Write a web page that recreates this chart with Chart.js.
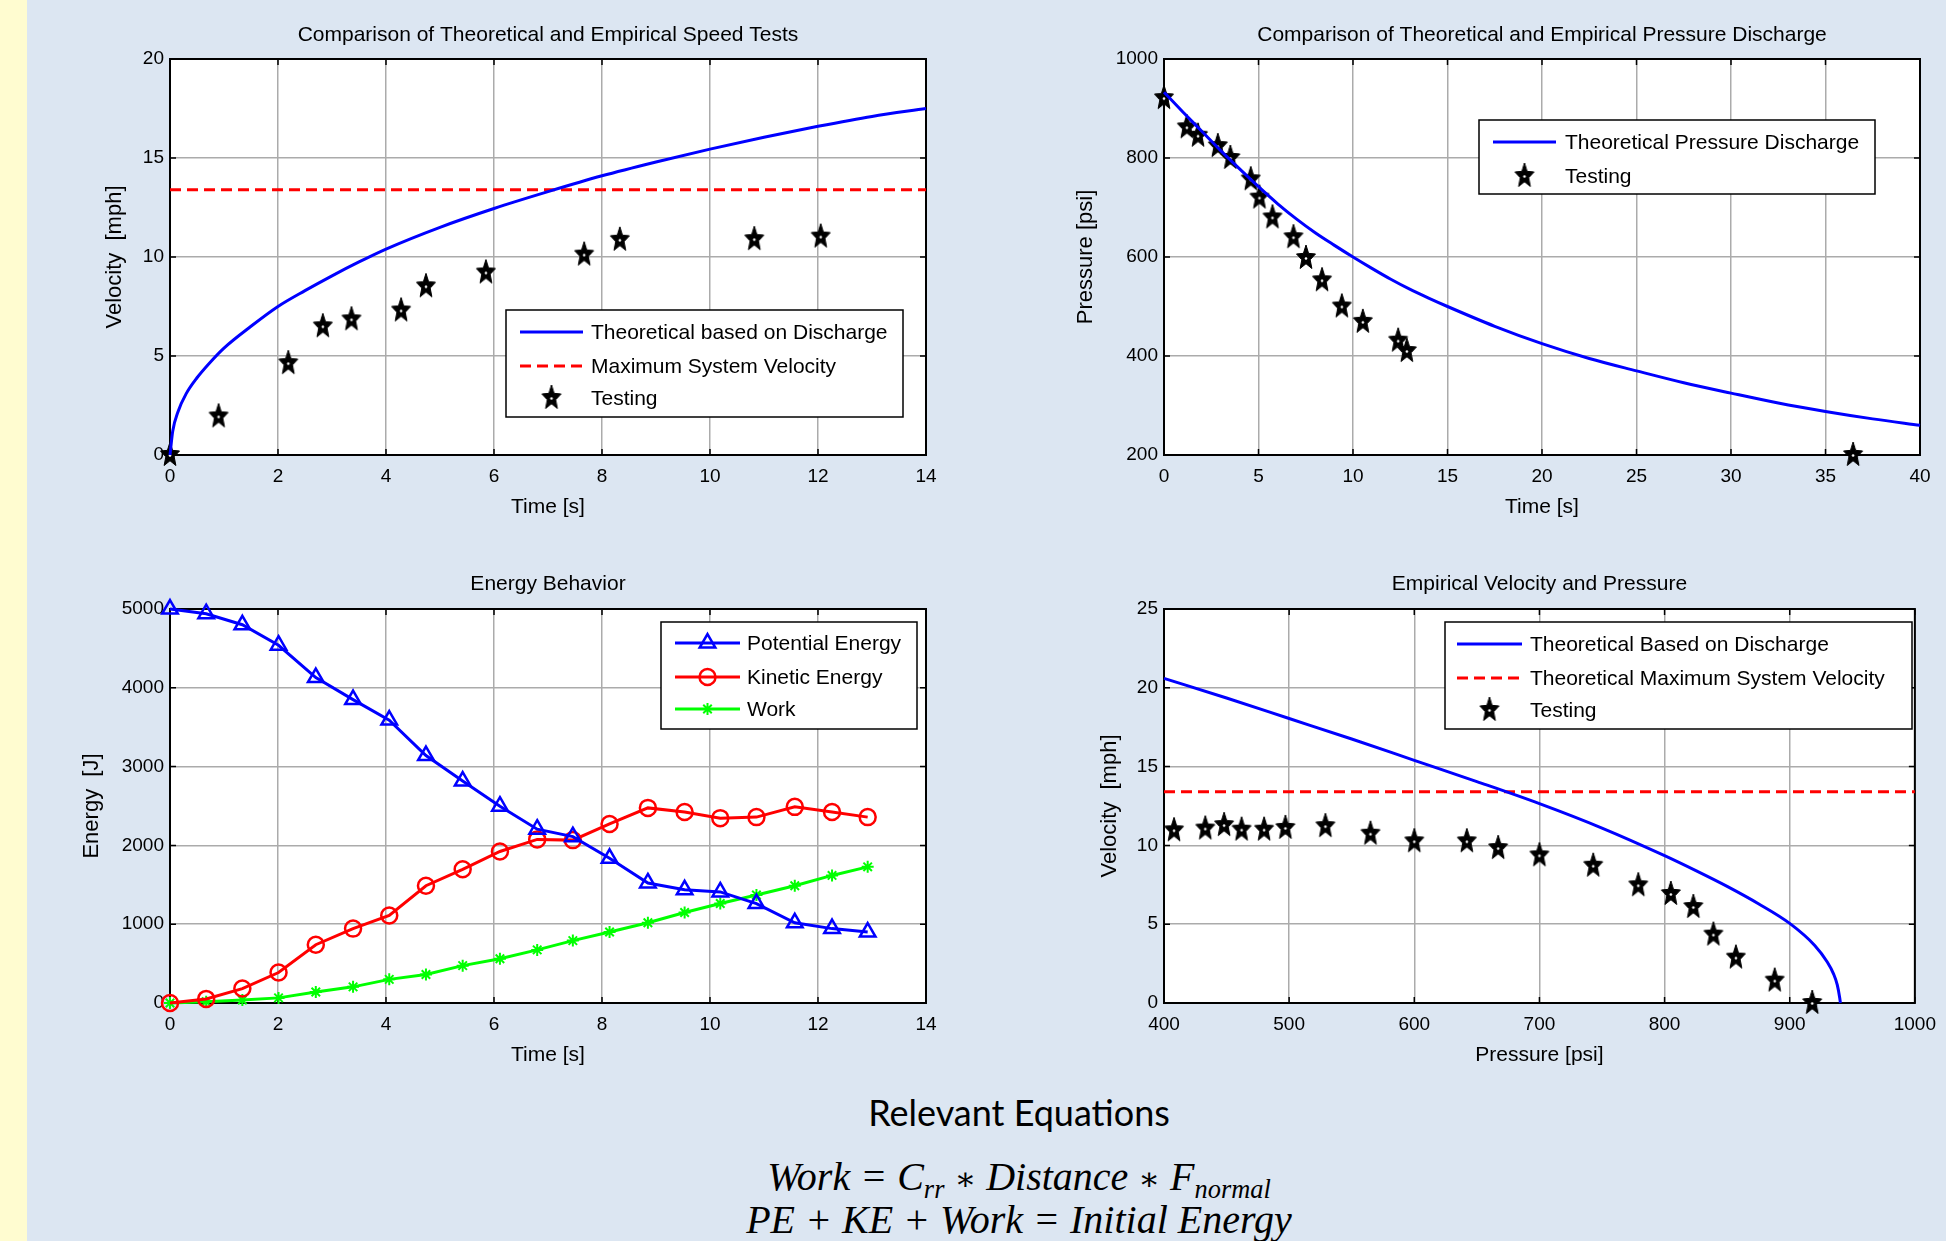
<!DOCTYPE html>
<html><head><meta charset="utf-8">
<script src="https://cdn.jsdelivr.net/npm/chart.js@4.4.1/dist/chart.umd.min.js"></script>
<style>
html,body{margin:0;padding:0;}
body{width:1946px;height:1241px;background:#DCE6F2;position:relative;overflow:hidden;font-family:"Liberation Sans",Arial,sans-serif;}
#strip{position:absolute;left:0;top:0;width:27px;height:1241px;background:#FFFCD0;}
canvas{position:absolute;}
#eqTitle{position:absolute;left:519px;width:1000px;top:1090px;text-align:center;font-family:Lato,"Open Sans",sans-serif;font-size:36px;line-height:44px;color:#000;}
.eq{position:absolute;left:419px;width:1200px;text-align:center;font-family:"Liberation Serif","DejaVu Serif",serif;font-style:italic;font-size:40px;line-height:44px;color:#000;}
.eq sub{font-size:0.66em;vertical-align:-0.3em;line-height:0;}
.eq .op{font-style:normal;font-size:0.8em;}
</style></head>
<body>
<div id="strip"></div>
<canvas id="c1"></canvas><canvas id="c2"></canvas><canvas id="c3"></canvas><canvas id="c4"></canvas>
<div id="eqTitle">Relevant Equations</div>
<div class="eq" style="top:1155px">Work = C<sub>rr</sub> <span class="op">∗</span> Distance <span class="op">∗</span> F<sub>normal</sub></div>
<div class="eq" style="top:1198px">PE + KE + Work = Initial Energy</div>
<script>
// ---------- DATA ----------
// Chart 1: speed tests
const theoryTime1 = [0,0.05,0.15,0.3,0.5,0.75,1,1.5,2,2.5,3,3.5,4,5,6,7,8,9,10,11,12,13,14];
const theoryVel1  = [0,1.2,2.2,3.1,3.9,4.7,5.4,6.5,7.5,8.3,9.05,9.75,10.4,11.5,12.45,13.3,14.1,14.8,15.45,16.05,16.6,17.1,17.5];
const maxVel1Range = [0,14];
const maxVelocity = 13.4;
const testTime1 = [0,0.9,2.19,2.83,3.36,4.28,4.74,5.85,7.67,8.33,10.82,12.05];
const testVel1  = [0,1.95,4.64,6.5,6.85,7.3,8.52,9.22,10.12,10.87,10.9,11.03];
const labels1 = ["Theoretical based on Discharge","Maximum System Velocity","Testing"];

// Chart 2: pressure discharge
const theoryTime2  = [0,1,2,3,4,5,6,7,8,9,10,11,12,13,14,15,17.5,20,22.5,25,27.5,30,32.5,35,37.5,40];
const theoryPress2 = [933,893,854,815,778,742,708,677,649,624,600,577,555,535,517,500,460,425,395,370,346,325,305,288,273,260];
const testTime2  = [0,1.21,1.8,2.85,3.51,4.59,5.05,5.74,6.85,7.51,8.36,9.41,10.52,12.39,12.85,36.46];
const testPress2 = [921,862,845,824,800,757,720,680,640,598,553,500,469,431,410,200];
const labels2 = ["Theoretical Pressure Discharge","Testing"];

// Chart 3: energy behavior
const energyTime = [0,0.67,1.34,2.01,2.70,3.39,4.06,4.74,5.42,6.11,6.80,7.46,8.14,8.85,9.53,10.19,10.86,11.57,12.26,12.92];
const potentialEnergy = [5000,4940,4800,4540,4130,3850,3590,3140,2816,2498,2206,2111,1836,1523,1436,1410,1262,1018,944,901];
const kineticEnergy   = [0,52,183,387,740,944,1110,1488,1697,1923,2076,2067,2272,2476,2424,2346,2359,2489,2424,2359];
const workEnergy      = [0,17,39,65,139,205,300,361,474,561,674,792,901,1018,1149,1262,1371,1488,1619,1728];
const labels3 = ["Potential Energy","Kinetic Energy","Work"];

// Chart 4: velocity vs pressure
const theoryPress4 = [400,450,500,550,600,650,700,750,800,825,850,875,900,920,930,935,938,940,940.5];
const theoryVel4   = [20.6,19.35,18.05,16.75,15.4,14.05,12.65,11.1,9.35,8.4,7.4,6.3,5.05,3.65,2.6,1.85,1.15,0.3,0];
const maxVel4Range = [400,1000];
const testPress4 = [408,433,448,462,480,497,529,565,600,642,667,700,743,779,805,823,839,857,888,918];
const testVel4   = [10.96,11.07,11.29,11.0,11.0,11.11,11.22,10.74,10.26,10.26,9.83,9.37,8.71,7.47,6.92,6.09,4.34,2.88,1.42,0];
const labels4 = ["Theoretical Based on Discharge","Theoretical Maximum System Velocity","Testing"];

// ---------- RENDER ----------
Chart.defaults.font.family = '"Liberation Sans", Arial, Helvetica, sans-serif';
Chart.defaults.color = '#000';

const pts = (xs, ys) => xs.map((x, i) => ({x, y: ys[i]}));

function makeStar() {
  const c = document.createElement('canvas');
  c.width = 22; c.height = 28;
  const g = c.getContext('2d');
  const cx = 11, cy = 14, R = 10, r = 4.4, sy = 1.3;
  g.beginPath();
  for (let k = 0; k < 10; k++) {
    const a = -Math.PI / 2 + k * Math.PI / 5;
    const rr = k % 2 === 0 ? R : r;
    const px = cx + rr * Math.cos(a), py = cy + rr * Math.sin(a) * sy;
    if (k === 0) g.moveTo(px, py); else g.lineTo(px, py);
  }
  g.closePath();
  g.fillStyle = '#000'; g.fill();
  g.lineWidth = 1; g.strokeStyle = '#000'; g.stroke();
  g.beginPath(); g.arc(cx, cy + 0.5, 1.3, 0, Math.PI * 2); g.fillStyle = '#fff'; g.fill();
  return c;
}
const STAR = makeStar();

function framePlugin(spec, box) {
  return {
    id: 'matlabFrame',
    beforeDraw(chart) {
      const {ctx, chartArea: a} = chart;
      ctx.save(); ctx.fillStyle = '#fff';
      ctx.fillRect(a.left, a.top, a.right - a.left, a.bottom - a.top);
      ctx.restore();
    },
    beforeDatasetsDraw(chart) {
      const {ctx, chartArea: a, scales} = chart;
      ctx.save();
      ctx.strokeStyle = '#000'; ctx.lineWidth = 1.5;
      const L = 6;
      scales.x.ticks.forEach(t => {
        const px = scales.x.getPixelForValue(t.value);
        ctx.beginPath();
        ctx.moveTo(px, a.bottom); ctx.lineTo(px, a.bottom - L);
        ctx.moveTo(px, a.top); ctx.lineTo(px, a.top + L);
        ctx.stroke();
      });
      scales.y.ticks.forEach(t => {
        const py = scales.y.getPixelForValue(t.value);
        ctx.beginPath();
        ctx.moveTo(a.left, py); ctx.lineTo(a.left + L, py);
        ctx.moveTo(a.right, py); ctx.lineTo(a.right - L, py);
        ctx.stroke();
      });
      ctx.lineWidth = 2;
      ctx.strokeRect(a.left, a.top, a.right - a.left, a.bottom - a.top);
      ctx.restore();
    },
    afterDatasetsDraw(chart) {
      const ctx = chart.ctx, ox = box.x, oy = box.y, b = spec.box;
      ctx.save();
      ctx.fillStyle = '#fff';
      ctx.fillRect(b[0] - ox, b[1] - oy, b[2] - b[0], b[3] - b[1]);
      ctx.strokeStyle = '#000'; ctx.lineWidth = 1.5;
      ctx.strokeRect(b[0] - ox, b[1] - oy, b[2] - b[0], b[3] - b[1]);
      chart.data.datasets.forEach((ds, i) => {
        const y = spec.rows[i] - oy;
        const x1 = spec.line[0] - ox, x2 = spec.line[1] - ox, xm = (x1 + x2) / 2;
        if (ds.showLine) {
          ctx.save();
          ctx.strokeStyle = ds.borderColor; ctx.lineWidth = ds.borderWidth;
          ctx.setLineDash(ds.borderDash || []);
          ctx.beginPath(); ctx.moveTo(x1, y); ctx.lineTo(x2, y); ctx.stroke();
          ctx.restore();
        }
        if (ds.pointStyle instanceof HTMLCanvasElement) {
          ctx.drawImage(ds.pointStyle, xm - ds.pointStyle.width / 2, y - ds.pointStyle.height / 2);
        } else if (ds.pointRadius > 0) {
          ctx.save();
          ctx.fillStyle = ds.pointBackgroundColor; ctx.strokeStyle = ds.pointBorderColor;
          ctx.lineWidth = ds.pointBorderWidth; ctx.setLineDash([]);
          Chart.helpers.drawPoint(ctx, {pointStyle: ds.pointStyle, radius: ds.pointRadius, borderWidth: ds.pointBorderWidth, rotation: 0}, xm, y);
          ctx.restore();
        }
        ctx.fillStyle = '#000';
        ctx.font = '21px "Liberation Sans", Arial, sans-serif';
        ctx.textBaseline = 'middle'; ctx.textAlign = 'left';
        ctx.fillText(ds.label, spec.textX - ox, y + 1);
      });
      ctx.restore();
    }
  };
}

function makeChart(id, box, plot, cfg) {
  const cv = document.getElementById(id);
  cv.width = box.w; cv.height = box.h;
  cv.style.left = box.x + 'px'; cv.style.top = box.y + 'px';
  cv.style.width = box.w + 'px'; cv.style.height = box.h + 'px';
  const lh = 21 * 1.2;
  const axisLh = 21 * 1.2;
  const gridOpts = {color: '#ababab', lineWidth: 1.5, drawTicks: false};
  new Chart(cv, {
    type: 'scatter',
    data: {datasets: cfg.datasets},
    plugins: [framePlugin(cfg.legend, box)],
    options: {
      responsive: false, animation: false, devicePixelRatio: 1,
      events: [],
      layout: {padding: {left: 0, top: 0, right: box.x + box.w - plot.r, bottom: 0}},
      plugins: {
        legend: {display: false}, tooltip: {enabled: false},
        title: {display: true, text: cfg.title, fullSize: false, color: '#000',
          font: {size: 21, weight: 'normal', lineHeight: 1.2},
          padding: {top: cfg.titleY - box.y - lh / 2, bottom: plot.t - cfg.titleY - lh / 2}}
      },
      scales: {
        x: {type: 'linear', min: cfg.x.min, max: cfg.x.max,
          ticks: {stepSize: cfg.x.step, padding: 10, font: {size: 19}, color: '#000', maxRotation: 0, autoSkip: false,
            format: {useGrouping: false}},
          grid: gridOpts, border: {display: false},
          title: {display: true, text: cfg.x.title, color: '#000', font: {size: 21, lineHeight: 1.2},
            padding: {top: 0, bottom: box.y + box.h - cfg.x.titleY - axisLh / 2}},
          afterFit(s) { s.height = box.y + box.h - plot.b; }},
        y: {type: 'linear', min: cfg.y.min, max: cfg.y.max,
          ticks: {stepSize: cfg.y.step, padding: 6, font: {size: 19}, color: '#000', autoSkip: false,
            format: {useGrouping: false}},
          grid: gridOpts, border: {display: false},
          title: {display: true, text: cfg.y.title, color: '#000', font: {size: 22, lineHeight: 1.2},
            padding: {top: cfg.y.titleX - box.x - 22 * 1.2 / 2, bottom: 0}},
          afterFit(s) { s.width = plot.l - box.x; }}
      }
    }
  });
}

const lineDs = (label, xs, ys, color, extra) => Object.assign({
  label, data: pts(xs, ys), showLine: true, borderColor: color, backgroundColor: color,
  borderWidth: 3, pointRadius: 0, pointHoverRadius: 0, clip: false, cubicInterpolationMode: 'monotone'
}, extra || {});
const starDs = (label, xs, ys) => ({
  label, data: pts(xs, ys), showLine: false, pointStyle: STAR, pointRadius: 11,
  pointBorderWidth: 0, borderColor: '#000', backgroundColor: '#000', clip: false
});

// Chart 1
makeChart('c1', {x: 28, y: 0, w: 960, h: 540}, {l: 170, t: 59, r: 926, b: 455}, {
  title: 'Comparison of Theoretical and Empirical Speed Tests', titleY: 35,
  x: {min: 0, max: 14, step: 2, title: 'Time [s]', titleY: 507},
  y: {min: 0, max: 20, step: 5, title: 'Velocity  [mph]', titleX: 115},
  legend: {box: [506, 310, 903, 417], rows: [332, 366, 398], line: [520, 583], textX: 591},
  datasets: [
    lineDs(labels1[0], theoryTime1, theoryVel1, '#0000FF'),
    lineDs(labels1[1], maxVel1Range, [maxVelocity, maxVelocity], '#FF0000', {borderDash: [11, 6], cubicInterpolationMode: 'default'}),
    starDs(labels1[2], testTime1, testVel1)
  ]
});

// Chart 2
makeChart('c2', {x: 990, y: 0, w: 956, h: 540}, {l: 1164, t: 59, r: 1920, b: 455}, {
  title: 'Comparison of Theoretical and Empirical Pressure Discharge', titleY: 35,
  x: {min: 0, max: 40, step: 5, title: 'Time [s]', titleY: 507},
  y: {min: 200, max: 1000, step: 200, title: 'Pressure [psi]', titleX: 1086},
  legend: {box: [1479, 120, 1875, 194], rows: [142, 176], line: [1493, 1556], textX: 1565},
  datasets: [
    lineDs(labels2[0], theoryTime2, theoryPress2, '#0000FF'),
    starDs(labels2[1], testTime2, testPress2)
  ]
});

// Chart 3
makeChart('c3', {x: 28, y: 545, w: 960, h: 540}, {l: 170, t: 609, r: 926, b: 1003}, {
  title: 'Energy Behavior', titleY: 584,
  x: {min: 0, max: 14, step: 2, title: 'Time [s]', titleY: 1055},
  y: {min: 0, max: 5000, step: 1000, title: 'Energy  [J]', titleX: 92},
  legend: {box: [661, 622, 917, 729], rows: [643, 677, 709], line: [675, 740], textX: 747},
  datasets: [
    lineDs(labels3[0], energyTime, potentialEnergy, '#0000FF', {cubicInterpolationMode: 'default', tension: 0,
      pointStyle: 'triangle', pointRadius: 9, pointBorderWidth: 2.5, pointBorderColor: '#0000FF', pointBackgroundColor: 'rgba(0,0,0,0)'}),
    lineDs(labels3[1], energyTime, kineticEnergy, '#FF0000', {cubicInterpolationMode: 'default', tension: 0,
      pointStyle: 'circle', pointRadius: 8, pointBorderWidth: 2.5, pointBorderColor: '#FF0000', pointBackgroundColor: 'rgba(0,0,0,0)'}),
    lineDs(labels3[2], energyTime, workEnergy, '#00FF00', {cubicInterpolationMode: 'default', tension: 0,
      pointStyle: 'star', pointRadius: 6, pointBorderWidth: 2, pointBorderColor: '#00FF00', pointBackgroundColor: '#00FF00'})
  ]
});

// Chart 4
makeChart('c4', {x: 990, y: 545, w: 956, h: 540}, {l: 1164, t: 609, r: 1920, b: 1003}, {
  title: 'Empirical Velocity and Pressure', titleY: 584,
  x: {min: 400, max: 1000, step: 100, title: 'Pressure [psi]', titleY: 1055},
  y: {min: 0, max: 25, step: 5, title: 'Velocity  [mph]', titleX: 1110},
  legend: {box: [1445, 622, 1912, 729], rows: [644, 678, 710], line: [1457, 1522], textX: 1530},
  datasets: [
    lineDs(labels4[0], theoryPress4, theoryVel4, '#0000FF'),
    lineDs(labels4[1], maxVel4Range, [maxVelocity, maxVelocity], '#FF0000', {borderDash: [11, 6], cubicInterpolationMode: 'default'}),
    starDs(labels4[2], testPress4, testVel4)
  ]
});
</script>
</body></html>
